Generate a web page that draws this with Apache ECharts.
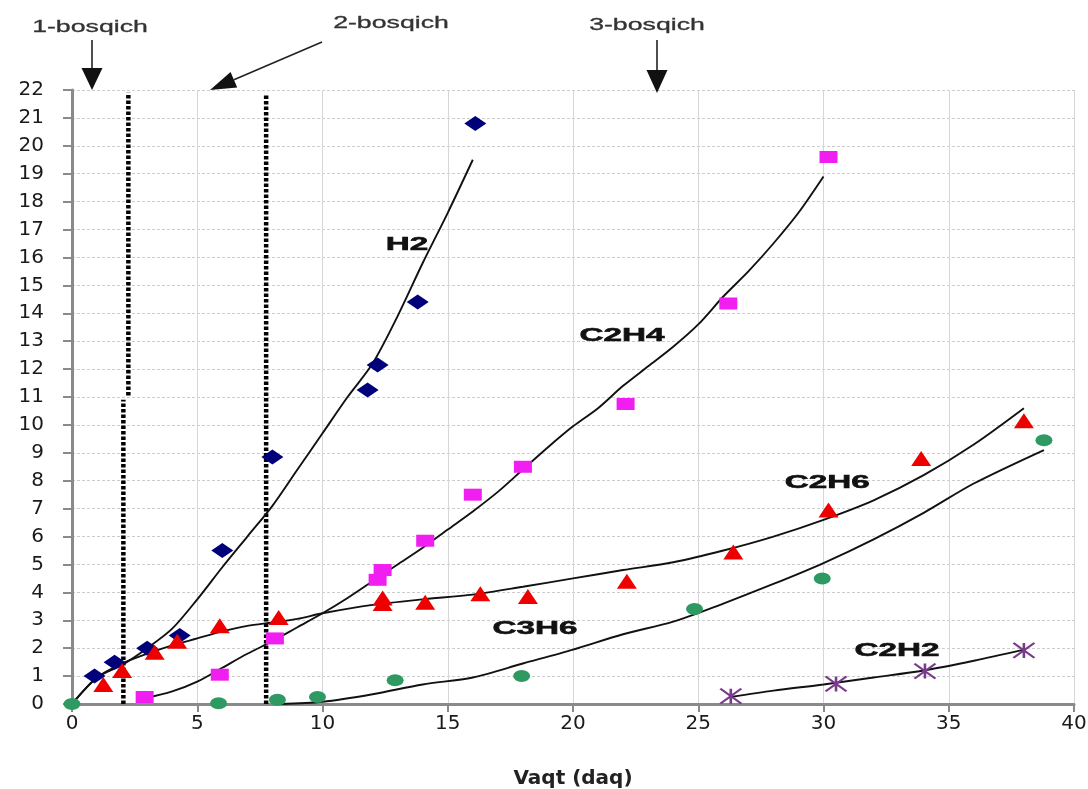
<!DOCTYPE html>
<html>
<head>
<meta charset="utf-8">
<script src="https://cdn.jsdelivr.net/npm/echarts@6/dist/echarts.min.js"></script>
<style>
html,body{margin:0;padding:0;background:#fff;}
#chart{width:1088px;height:789px;}
</style>
</head>
<body>
<div id="chart"></div>
<script>
// ---- measured points ----
const h2X = [0.9, 1.7, 3.0, 4.3, 6.0, 8.0, 11.8, 12.2, 13.8, 16.1];
const h2Y = [1.0, 1.5, 2.0, 2.45, 5.5, 8.85, 11.25, 12.15, 14.4, 20.8];

const c2h4X = [2.9, 5.9, 8.1, 12.2, 12.4, 14.1, 16.0, 18.0, 22.1, 26.2, 30.2];
const c2h4Y = [0.25, 1.05, 2.35, 4.45, 4.8, 5.85, 7.5, 8.5, 10.75, 14.35, 19.6];

const c2h6X = [1.25, 2.0, 3.3, 4.2, 5.9, 8.25, 12.4, 12.4, 14.1, 16.3, 18.2, 22.15, 26.4, 30.2, 33.9, 38.0];
const c2h6Y = [0.7, 1.2, 1.85, 2.25, 2.8, 3.1, 3.6, 3.8, 3.65, 3.95, 3.85, 4.4, 5.45, 6.95, 8.8, 10.15];

const c3h6X = [0, 5.85, 8.2, 9.8, 12.9, 17.95, 24.85, 29.95, 38.8];
const c3h6Y = [0, 0.03, 0.15, 0.25, 0.85, 1.0, 3.4, 4.5, 9.45];

const c2h2X = [26.3, 30.5, 34.05, 38.0];
const c2h2Y = [0.28, 0.72, 1.18, 1.92];

// ---- fitted curves ----
const h2FitX = [0, 1, 2, 3, 4, 5, 6, 7, 8, 9, 10, 11, 12, 13, 14, 15, 16];
const h2FitY = [0, 0.95, 1.4, 2.0, 2.7, 3.75, 4.9, 6.0, 7.1, 8.4, 9.7, 11.0, 12.2, 13.9, 15.8, 17.6, 19.5];

const c2h4FitX = [2.9, 4, 5, 6, 7, 8, 9, 10, 11, 12, 13, 14, 15, 16, 17, 18, 19, 20, 21, 22, 23, 24, 25, 26, 27, 28, 29, 30];
const c2h4FitY = [0.2, 0.45, 0.8, 1.3, 1.8, 2.25, 2.75, 3.25, 3.8, 4.4, 5.0, 5.6, 6.25, 6.9, 7.6, 8.4, 9.2, 9.95, 10.6, 11.4, 12.1, 12.8, 13.6, 14.6, 15.5, 16.5, 17.6, 18.9];

const c2h6FitX = [0, 1, 2, 3, 4, 5, 6, 7, 8, 9, 10, 12, 14, 16, 18, 20, 22, 24, 26, 28, 30, 32, 34, 36, 38];
const c2h6FitY = [0, 0.95, 1.45, 1.8, 2.1, 2.35, 2.6, 2.8, 2.92, 3.05, 3.25, 3.55, 3.75, 3.92, 4.2, 4.5, 4.8, 5.08, 5.5, 6.0, 6.6, 7.3, 8.2, 9.3, 10.6];

const c3h6FitX = [8.3, 10, 12, 14, 16, 18, 20, 22, 24, 26, 28, 30, 32, 34, 36, 38.8];
const c3h6FitY = [0, 0.08, 0.35, 0.7, 0.95, 1.45, 1.95, 2.5, 2.95, 3.6, 4.3, 5.05, 5.9, 6.85, 7.9, 9.1];

const c2h2FitX = [26.3, 28, 30, 32, 34, 36, 38];
const c2h2FitY = [0.25, 0.48, 0.7, 0.95, 1.2, 1.55, 1.95];

// ---- stage boundaries (dotted verticals) ----
const stage1LowX = [2.05, 2.05];
const stage1LowY = [0, 10.9];
const stage1UpX = [2.25, 2.25];
const stage1UpY = [11.05, 21.9];
const stage2X = [7.75, 7.75];
const stage2Y = [0, 21.8];

// ---- texts ----
const curveNames = ['H2', 'C2H4', 'C2H6', 'C3H6', 'C2H2'];
const curveNameX = [13.37, 21.96, 30.15, 18.48, 32.93];
const curveNameY = [16.45, 13.2, 7.91, 2.71, 1.9];
const stageNames = ['1-bosqich', '2-bosqich', '3-bosqich'];
const xAxisTitle = 'Vaqt (daq)';

const zip = (xs, ys) => xs.map((x, i) => [x, ys[i]]);

const chart = echarts.init(document.getElementById('chart'), null, {renderer: 'canvas'});

const fitStyle = {color: '#111', width: 1.9};
function fitSeries(name, xs, ys) {
  return {name, type: 'line', data: zip(xs, ys), smooth: 0.3, showSymbol: false, symbol: 'none',
    lineStyle: fitStyle, z: 3, silent: true};
}
function stageSeries(name, xs, ys) {
  return {name, type: 'line', data: zip(xs, ys), symbol: 'none', showSymbol: false,
    lineStyle: {color: '#000', width: 4.5, type: [3.5, 2]}, z: 2, silent: true};
}

const option = {
  animation: false,
  backgroundColor: '#fff',
  grid: {left: 72, right: 14, top: 90, bottom: 85, containLabel: false, outerBoundsMode: 'none'},
  xAxis: {
    type: 'value', min: 0, max: 40, interval: 5,
    axisLine: {show: true, lineStyle: {color: '#8a8a8a', width: 3}},
    axisTick: {show: true, length: 8, lineStyle: {color: '#8a8a8a', width: 2}},
    axisLabel: {fontFamily: 'DejaVu Sans', fontSize: 20, color: '#1a1a1a', margin: 10},
    splitLine: {show: true, lineStyle: {color: '#d6d6d6', width: 1}},
    name: xAxisTitle, nameLocation: 'middle', nameGap: 65,
    nameTextStyle: {fontFamily: 'DejaVu Sans', fontWeight: 'bold', fontSize: 20, color: '#222'}
  },
  yAxis: {
    type: 'value', min: 0, max: 22, interval: 1,
    axisLine: {show: true, lineStyle: {color: '#8a8a8a', width: 3}},
    axisTick: {show: true, length: 9, lineStyle: {color: '#8a8a8a', width: 2}},
    axisLabel: {fontFamily: 'DejaVu Sans', fontSize: 20, color: '#1a1a1a', margin: 28},
    splitLine: {show: true, lineStyle: {color: '#cccccc', width: 1, type: [3, 2]}}
  },
  series: [
    stageSeries('stage1a', stage1LowX, stage1LowY),
    stageSeries('stage1b', stage1UpX, stage1UpY),
    stageSeries('stage2', stage2X, stage2Y),
    fitSeries('H2 fit', h2FitX, h2FitY),
    fitSeries('C2H4 fit', c2h4FitX, c2h4FitY),
    fitSeries('C2H6 fit', c2h6FitX, c2h6FitY),
    fitSeries('C3H6 fit', c3h6FitX, c3h6FitY),
    fitSeries('C2H2 fit', c2h2FitX, c2h2FitY),
    {name: 'H2', type: 'scatter', data: zip(h2X, h2Y), symbol: 'diamond', symbolSize: [22, 15],
      itemStyle: {color: '#00007a', opacity: 1}, z: 4},
    {name: 'C2H4', type: 'scatter', data: zip(c2h4X, c2h4Y), symbol: 'rect', symbolSize: [18, 12],
      itemStyle: {color: '#f01ef0', opacity: 1}, z: 4},
    {name: 'C2H6', type: 'scatter', data: zip(c2h6X, c2h6Y), symbol: 'triangle', symbolSize: [20, 15],
      itemStyle: {color: '#ee0000', opacity: 1}, z: 4},
    {name: 'C3H6', type: 'scatter', data: zip(c3h6X, c3h6Y), symbol: 'circle', symbolSize: [17, 12],
      itemStyle: {color: '#2e9a62', opacity: 1}, z: 4},
    {name: 'C2H2', type: 'scatter', data: zip(c2h2X, c2h2Y),
      symbol: 'path://M0,0L20,14M20,0L0,14M10,0L10,14', symbolSize: [21, 15], symbolKeepAspect: false,
      itemStyle: {color: 'rgba(0,0,0,0)', borderColor: '#7a3a8c', borderWidth: 2.2, opacity: 1}, z: 4}
  ]
};
chart.setOption(option);

// ---- annotation graphics (labels on curves, stage arrows) ----
const labelFont = 'bold 19px "Liberation Sans", Arial, sans-serif';
const stageFont = '17px "Liberation Sans", Arial, sans-serif';
const graphics = [];
curveNames.forEach((t, i) => {
  const p = chart.convertToPixel({gridIndex: 0}, [curveNameX[i], curveNameY[i]]);
  graphics.push({type: 'text', x: p[0], y: p[1], scaleX: 1.75, z: 10,
    style: {text: t, font: labelFont, fill: '#111', stroke: '#111', lineWidth: 0.6, align: 'center', verticalAlign: 'middle'}});
});
const stageTextPos = [[90, 27], [391, 23], [647, 25]];
stageNames.forEach((t, i) => {
  graphics.push({type: 'text', x: stageTextPos[i][0], y: stageTextPos[i][1], scaleX: 1.57, z: 10,
    style: {text: t, font: stageFont, fill: '#333', stroke: '#333', lineWidth: 0.3, align: 'center', verticalAlign: 'middle'}});
});
function arrow(x1, y1, x2, y2, headLen, headW) {
  const dx = x2 - x1, dy = y2 - y1, L = Math.hypot(dx, dy);
  const ux = dx / L, uy = dy / L, nx = -uy, ny = ux;
  const bx = x2 - ux * headLen, by = y2 - uy * headLen;
  graphics.push({type: 'line', z: 10, shape: {x1, y1, x2: bx, y2: by}, style: {stroke: '#222', lineWidth: 1.6}});
  graphics.push({type: 'polygon', z: 10, shape: {points: [[x2, y2], [bx + nx * headW / 2, by + ny * headW / 2], [bx - nx * headW / 2, by - ny * headW / 2]]},
    style: {fill: '#111'}});
}
arrow(92, 40, 92, 90, 22, 21);
arrow(322, 42, 210, 90, 26, 17);
arrow(657, 40, 657, 93, 23, 21);
chart.setOption({graphic: graphics});
</script>
</body>
</html>
